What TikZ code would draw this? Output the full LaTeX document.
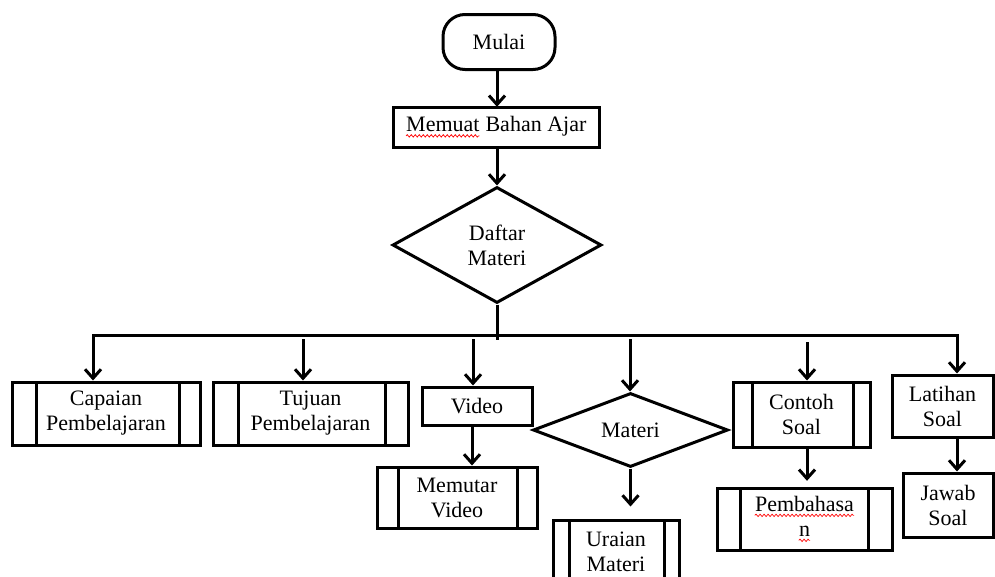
\documentclass[tikz,border=0pt]{standalone}
\usepackage{fontspec}
\setmainfont{Liberation Serif}
\usetikzlibrary{shapes.geometric,arrows.meta,decorations.pathmorphing}
% red spell-check wave under a word, the text itself stays black;
% the inner picture would otherwise pick up the size and frame of the outer node
\newcommand\redwave[1]{\tikz[baseline=(w.base),x=1pt,y=1pt]{%
  \node[draw=none,rectangle,rounded corners=0pt,path picture={},inner sep=0pt,
    minimum width=0pt,minimum height=0pt] (w) {#1};
  \draw[red,line width=0.7pt,decorate,decoration={snake,segment length=4pt,amplitude=1.2pt}]
    ([yshift=-4pt]w.base west) -- ([yshift=-4pt]w.base east);}}
\begin{document}
\begin{tikzpicture}[x=1pt,y=-1pt,line width=3pt,
  barb/.tip={Straight Barb[length=9pt,width=16pt]},
  arr/.style={-barb},
  every node/.style={font=\fontsize{22}{25}\selectfont,align=center,inner sep=0pt},
  box/.style={draw,rectangle},
  start/.style={draw,rectangle,rounded corners=22pt},
  decision/.style={draw,diamond,shape aspect=2},
  proc/.style 2 args={path picture={
    \draw[line width=3pt] ([xshift=#1]path picture bounding box.north west) -- ([xshift=#1]path picture bounding box.south west);
    \draw[line width=3pt] ([xshift=-#2]path picture bounding box.north east) -- ([xshift=-#2]path picture bounding box.south east);}}]
 \useasboundingbox (0,0) rectangle (995,576);
 \node[start,minimum width=112,minimum height=55] (mulai) at (499,42) {Mulai};
 \node[box,minimum width=206,minimum height=40] (memuat) at (496,127) {\redwave{Memuat} Bahan Ajar};
 \node[decision,minimum width=209,minimum height=116] (daftar) at (497,245) {Daftar\\Materi};
 \node[box,proc={24}{21},minimum width=188,minimum height=63] (capaian) at (106,413.5) {Capaian\\Pembelajaran};
 \node[box,proc={25}{23},minimum width=195,minimum height=63] (tujuan) at (310.5,413.5) {Tujuan\\Pembelajaran};
 \node[box,minimum width=110,minimum height=38] (video) at (477,406) {Video};
 \node[box,proc={21}{20},minimum width=160,minimum height=61] (memutar) at (457,497.5) {Memutar\\Video};
 \node[decision,shape aspect=2.6,minimum width=195,minimum height=74] (materi) at (630.5,430) {Materi};
 \node[box,proc={16}{15},minimum width=126,minimum height=64] (uraian) at (616,552) {Uraian\\Materi};
 \node[box,proc={19}{17},minimum width=137,minimum height=65] (contoh) at (801.5,414.5) {Contoh\\Soal};
 \node[box,proc={23}{24},minimum width=175,minimum height=62] (pembahasan) at (804.5,519) {\redwave{Pembahasa}\\\redwave{n}};
 \node[box,minimum width=101,minimum height=62] (latihan) at (942.5,406) {Latihan\\Soal};
 \node[box,minimum width=90,minimum height=64] (jawab) at (948,505) {Jawab\\Soal};
 % main column
 \draw[arr] (daftar.north |- mulai.south) -- (daftar.north |- memuat.north);
 \draw[arr] (daftar.north |- memuat.south) -- (daftar.north);
 \coordinate (busL) at (93,335); \coordinate (busR) at (957,335);
 \draw[shorten >=-5pt] (daftar.south) -- (daftar.south |- busL);
 \draw[barb-barb] (busL |- capaian.north) -- (busL) -- (busR) -- (busR |- latihan.north);
 % the inner drops start just under the bus, not on it
 \foreach \n/\x/\y in {tujuan/303/339,video/473/339,materi/630/339,contoh/807/342}{
   \coordinate (s-\n) at (\x,\y);
   \draw[arr] (s-\n) -- (s-\n |- \n.north);}
 \draw[arr] ([xshift=-5pt]video.south) -- ([xshift=-5pt]video.south |- memutar.north);
 \draw[arr,shorten >=12pt] (materi.south) -- (materi.south |- uraian.north);
 \draw[arr,shorten >=7pt] (s-contoh |- contoh.south) -- (s-contoh |- pembahasan.north);
 \draw[arr] (busR |- latihan.south) -- (busR |- jawab.north);
\end{tikzpicture}
\end{document}
